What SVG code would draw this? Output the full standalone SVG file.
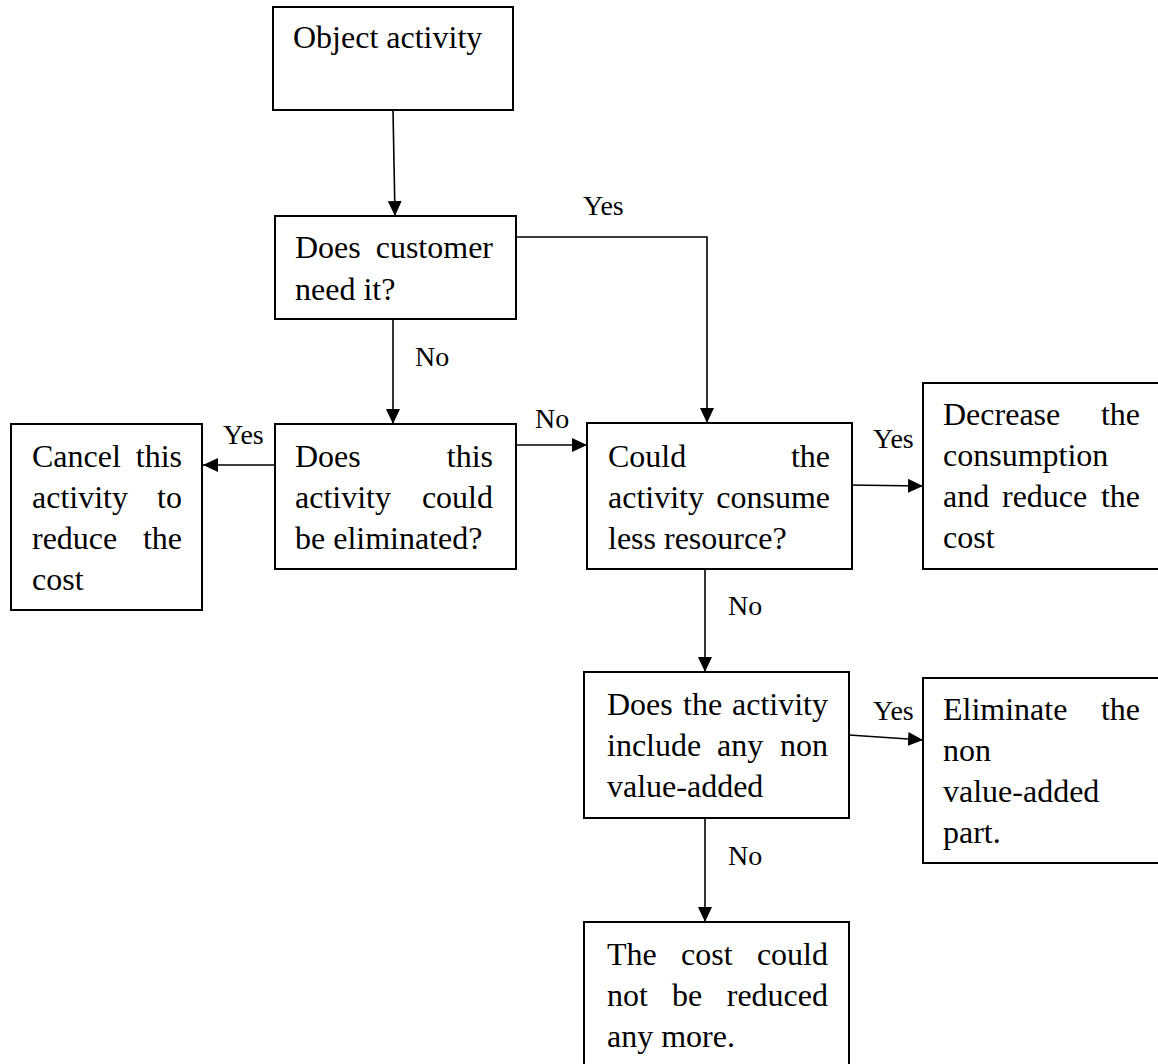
<svg xmlns="http://www.w3.org/2000/svg" width="1158" height="1064" viewBox="0 0 1158 1064">
<style>
.box{fill:#fff;stroke:#000;stroke-width:2}
.t{font-family:"Liberation Serif","Times New Roman",serif;font-size:32px;fill:#000}
.e{text-anchor:end}
.lbl{font-family:"Liberation Serif","Times New Roman",serif;font-size:28px;fill:#000}
.c{fill:none;stroke:#000;stroke-width:1.6}
</style>
<defs>
<marker id="ah" viewBox="0 0 15 14" refX="15" refY="7" markerWidth="15" markerHeight="14" markerUnits="userSpaceOnUse" orient="auto">
<path d="M0,0 L15,7 L0,14 z" fill="#000"/>
</marker>
</defs>
<rect width="1158" height="1064" fill="#fff"/>
<g id="connectors">
<line class="c" x1="393" y1="110" x2="395" y2="216" marker-end="url(#ah)"/>
<line class="c" x1="393" y1="319" x2="393" y2="424" marker-end="url(#ah)"/>
<polyline class="c" points="516,237 707,237 707,423" marker-end="url(#ah)"/>
<line class="c" x1="275" y1="465" x2="203" y2="465" marker-end="url(#ah)"/>
<line class="c" x1="516" y1="445" x2="587" y2="445" marker-end="url(#ah)"/>
<line class="c" x1="848" y1="485" x2="923" y2="486" marker-end="url(#ah)"/>
<line class="c" x1="705" y1="569" x2="705" y2="672" marker-end="url(#ah)"/>
<line class="c" x1="849" y1="735" x2="923" y2="740" marker-end="url(#ah)"/>
<line class="c" x1="705" y1="818" x2="705" y2="922" marker-end="url(#ah)"/>
<text class="lbl" x="583" y="215">Yes</text>
<text class="lbl" x="415" y="366">No</text>
<text class="lbl" x="223" y="444">Yes</text>
<text class="lbl" x="535" y="428">No</text>
<text class="lbl" x="873" y="448">Yes</text>
<text class="lbl" x="728" y="615">No</text>
<text class="lbl" x="873" y="720">Yes</text>
<text class="lbl" x="728" y="865">No</text>
</g>
<g id="object-activity">
<rect class="box" x="273" y="7" width="240" height="103"/>
<text class="t" x="293" y="48">Object activity</text>
</g>
<g id="customer-need">
<rect class="box" x="275" y="216" width="241" height="103"/>
<text class="t" x="295" y="258">Does</text><text class="t e" x="493" y="258">customer</text>
<text class="t" x="295" y="300">need it?</text>
</g>
<g id="could-eliminate">
<rect class="box" x="275" y="424" width="241" height="145"/>
<text class="t" x="295" y="467">Does</text><text class="t e" x="493" y="467">this</text>
<text class="t" x="295" y="508">activity</text><text class="t e" x="493" y="508">could</text>
<text class="t" x="295" y="549">be eliminated?</text>
</g>
<g id="cancel-activity">
<rect class="box" x="11" y="424" width="191" height="186"/>
<text class="t" x="32" y="467">Cancel</text><text class="t e" x="182" y="467">this</text>
<text class="t" x="32" y="508">activity</text><text class="t e" x="182" y="508">to</text>
<text class="t" x="32" y="549">reduce</text><text class="t e" x="182" y="549">the</text>
<text class="t" x="32" y="590">cost</text>
</g>
<g id="consume-less">
<rect class="box" x="587" y="423" width="265" height="146"/>
<text class="t" x="608" y="467">Could</text><text class="t e" x="830" y="467">the</text>
<text class="t" x="608" y="508">activity</text><text class="t e" x="830" y="508">consume</text>
<text class="t" x="608" y="549">less resource?</text>
</g>
<g id="decrease-consumption">
<rect class="box" x="923" y="383" width="240" height="186"/>
<text class="t" x="943" y="425">Decrease</text><text class="t e" x="1140" y="425">the</text>
<text class="t" x="943" y="466">consumption</text>
<text class="t" x="943" y="507">and</text><text class="t" x="1002" y="507">reduce</text><text class="t e" x="1140" y="507">the</text>
<text class="t" x="943" y="548">cost</text>
</g>
<g id="non-value-added">
<rect class="box" x="584" y="672" width="265" height="146"/>
<text class="t" x="607" y="715">Does</text><text class="t" x="683" y="715">the</text><text class="t e" x="828" y="715">activity</text>
<text class="t" x="607" y="756">include</text><text class="t" x="717" y="756">any</text><text class="t e" x="828" y="756">non</text>
<text class="t" x="607" y="797">value-added</text>
</g>
<g id="eliminate-part">
<rect class="box" x="923" y="678" width="240" height="185"/>
<text class="t" x="943" y="720">Eliminate</text><text class="t e" x="1140" y="720">the</text>
<text class="t" x="943" y="761">non</text>
<text class="t" x="943" y="802">value-added</text>
<text class="t" x="943" y="843">part.</text>
</g>
<g id="cannot-reduce">
<rect class="box" x="584" y="922" width="265" height="146"/>
<text class="t" x="607" y="965">The</text><text class="t" x="681" y="965">cost</text><text class="t e" x="828" y="965">could</text>
<text class="t" x="607" y="1006">not</text><text class="t" x="672" y="1006">be</text><text class="t e" x="828" y="1006">reduced</text>
<text class="t" x="607" y="1047">any more.</text>
</g>
</svg>
